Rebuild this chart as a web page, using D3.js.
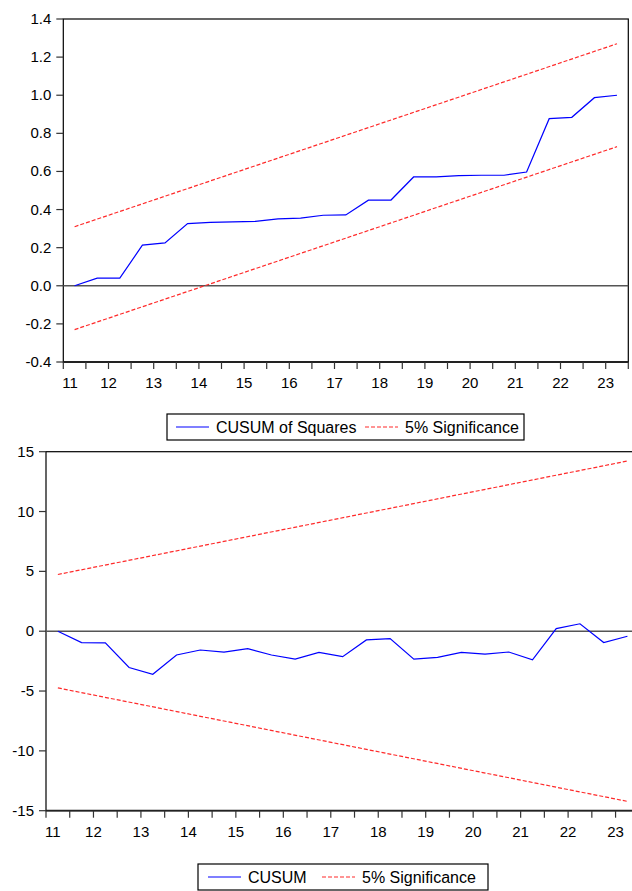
<!DOCTYPE html>
<html>
<head>
<meta charset="utf-8">
<script src="https://cdn.jsdelivr.net/npm/d3@7"></script>
<style>
  body { margin: 0; background: #fff; }
  svg { display: block; font-family: "Liberation Sans", Arial, sans-serif; }
</style>
</head>
<body>
<svg id="chart"></svg>
<script>
// semiannual observations 2011H1 .. 2023H1 (25 obs), year ticks every 2 obs
const yearLabels = ["11", "12", "13", "14", "15", "16", "17", "18", "19", "20", "21", "22", "23"];

// CUSUM of squares (top panel)
const cusumSq = [0.0, 0.04, 0.04, 0.213, 0.225, 0.326, 0.333, 0.335, 0.338, 0.351, 0.355, 0.370, 0.372,
                 0.449, 0.450, 0.571, 0.572, 0.578, 0.580, 0.580, 0.597, 0.877, 0.884, 0.987, 1.000];
const cusumSqUpper = [0.31, 1.27];   // 5% bound at first and last obs
const cusumSqLower = [-0.23, 0.73];
const cusumSqTicks = [1.4, 1.2, 1.0, 0.8, 0.6, 0.4, 0.2, 0.0, -0.2, -0.4];

// CUSUM (bottom panel)
const cusum = [0.0, -0.95, -0.98, -3.03, -3.6, -1.99, -1.57, -1.74, -1.46, -1.99, -2.33, -1.77, -2.13,
               -0.73, -0.62, -2.33, -2.19, -1.77, -1.91, -1.74, -2.39, 0.22, 0.62, -0.95, -0.42];
const cusumUpper = [4.74, 14.22];
const cusumLower = [-4.74, -14.22];
const cusumTicks = [15, 10, 5, 0, -5, -10, -15];

const width = 632, height = 891;
const svg = d3.select("#chart").attr("width", width).attr("height", height);

function drawPanel(p) {
    const g = svg.append("g");
    const n = p.values.length;
    const x = d3.scaleLinear().domain([0, n]).range([p.left, p.right]);
    const y = d3.scaleLinear().domain(p.yDomain).range([p.bottom, p.top]);

    // frame
    g.append("rect")
        .attr("x", p.left).attr("y", p.top)
        .attr("width", p.right - p.left).attr("height", p.bottom - p.top)
        .attr("fill", "none").attr("stroke", "#000").attr("stroke-width", 1.2);

    // zero line
    g.append("line")
        .attr("x1", p.left).attr("x2", p.right)
        .attr("y1", y(0)).attr("y2", y(0))
        .attr("stroke", "#555").attr("stroke-width", 1.5);

    // 5% bounds, straight from first to last obs
    const ends = [0.5, n - 0.5];
    const bound = d3.line().x((d, i) => x(ends[i])).y(d => y(d));
    [p.upper, p.lower].forEach(b => {
        g.append("path").attr("d", bound(b))
            .attr("fill", "none").attr("stroke", "#ff2a2a")
            .attr("stroke-width", 1.2).attr("stroke-dasharray", "4,2");
    });

    // series
    const line = d3.line().x((d, i) => x(i + 0.5)).y(d => y(d));
    g.append("path").attr("d", line(p.values))
        .attr("fill", "none").attr("stroke", "#0000ff").attr("stroke-width", 1.2);

    // bottom axis line (a bit heavier)
    g.append("line")
        .attr("x1", p.left).attr("x2", p.right)
        .attr("y1", p.bottom).attr("y2", p.bottom)
        .attr("stroke", "#222").attr("stroke-width", 1.8);

    // y ticks + labels
    p.ticks.forEach(t => {
        g.append("line")
            .attr("x1", p.left - 7).attr("x2", p.left)
            .attr("y1", y(t)).attr("y2", y(t))
            .attr("stroke", "#333").attr("stroke-width", 1.2);
        g.append("text")
            .attr("x", p.left - 12).attr("y", y(t) + 5)
            .attr("text-anchor", "end").attr("font-size", 15)
            .text(p.fmt(t));
    });

    // x ticks every obs boundary
    d3.range(0, n + 1).forEach(k => {
        g.append("line")
            .attr("x1", x(k)).attr("x2", x(k))
            .attr("y1", p.bottom).attr("y2", p.bottom + 7)
            .attr("stroke", "#333").attr("stroke-width", 1.2);
    });

    // year labels at year-start ticks, first one pushed inside
    yearLabels.forEach((lab, j) => {
        const first = j === 0;
        g.append("text")
            .attr("x", first ? p.left - 1 : x(2 * j))
            .attr("y", p.bottom + 26)
            .attr("text-anchor", first ? "start" : "middle")
            .attr("font-size", 15)
            .text(lab);
    });

    // legend
    const L = p.legend;
    const lg = g.append("g").attr("transform", `translate(${L.x},${L.y})`);
    lg.append("rect").attr("x", 0).attr("y", 0).attr("width", L.w).attr("height", 26)
        .attr("fill", "#fff").attr("stroke", "#000").attr("stroke-width", 1.2);
    const items = [
        { label: p.name, color: "#0000ff", dash: null },
        { label: "5% Significance", color: "#ff2a2a", dash: "4,2" }
    ];
    items.forEach((it, i) => {
        const lx = L.items[i];
        lg.append("line")
            .attr("x1", lx).attr("x2", lx + 33)
            .attr("y1", 13).attr("y2", 13)
            .attr("stroke", it.color).attr("stroke-width", 1.2)
            .attr("stroke-dasharray", it.dash);
        lg.append("text").attr("x", lx + 40).attr("y", 18.5)
            .attr("font-size", 16).text(it.label);
    });
}

drawPanel({
    name: "CUSUM of Squares",
    values: cusumSq, upper: cusumSqUpper, lower: cusumSqLower,
    ticks: cusumSqTicks, yDomain: [-0.4, 1.4], fmt: d => d.toFixed(1),
    left: 63.3, right: 628.3, top: 19, bottom: 362,
    legend: { x: 167, y: 414, w: 357, items: [9, 198] }
});

drawPanel({
    name: "CUSUM",
    values: cusum, upper: cusumUpper, lower: cusumLower,
    ticks: cusumTicks, yDomain: [-15, 15], fmt: d => String(d),
    left: 46, right: 639.3, top: 451.7, bottom: 810.7,
    legend: { x: 198, y: 864, w: 290, items: [10, 124] }
});
</script>
</body>
</html>
